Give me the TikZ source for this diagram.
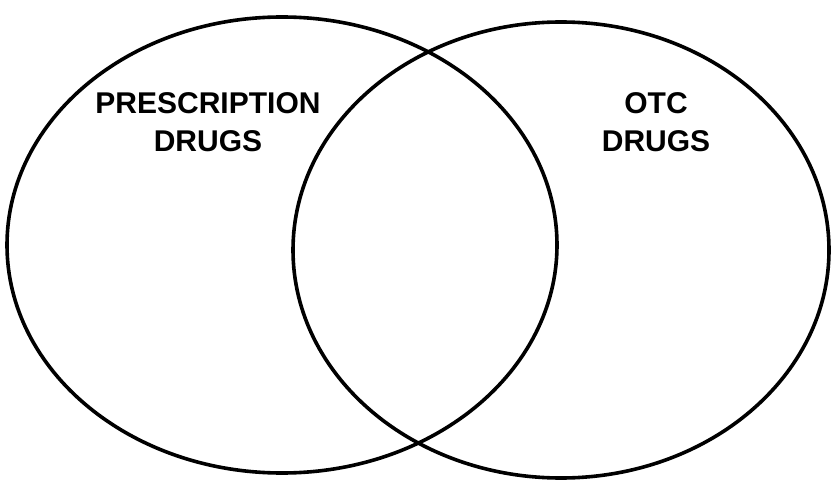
\documentclass[tikz,border=0pt]{standalone}
\usepackage{fontspec}
\setmainfont{Liberation Sans}
\tikzset{
  venn/.style={draw=black, line width=3.6pt, ellipse, inner sep=0pt},
  lbl/.style={font=\bfseries\fontsize{30}{38}\selectfont, align=center, text=black}
}
\usetikzlibrary{shapes.geometric}
\begin{document}
\begin{tikzpicture}[x=1pt,y=1pt]
\useasboundingbox (0,0) rectangle (834,485);
\draw[venn] (282,240) ellipse [x radius=275, y radius=228];
\draw[venn] (561,235) ellipse [x radius=268, y radius=228];
\node[lbl] (presc) at (208,363) {PRESCRIPTION\\DRUGS};
\node[lbl] (otc) at (656,363) {OTC\\DRUGS};
\end{tikzpicture}
\end{document}
